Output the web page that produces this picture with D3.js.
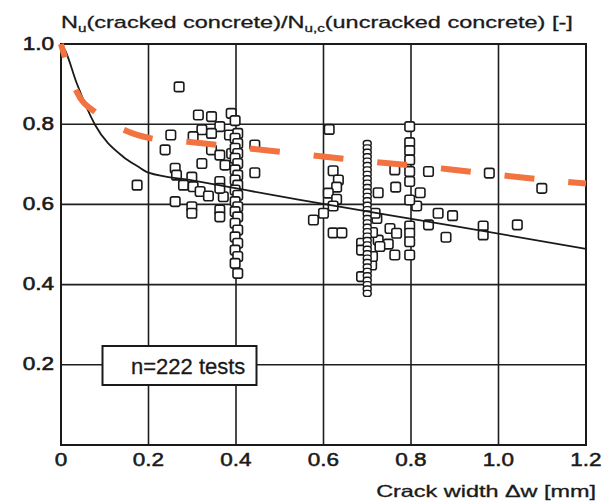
<!DOCTYPE html>
<html>
<head>
<meta charset="utf-8">
<script src="https://cdn.jsdelivr.net/npm/d3@7"></script>
<style>
  html, body { margin: 0; padding: 0; background: #fff; }
  text { font-family: "Liberation Sans", Arial, Helvetica, sans-serif; fill: #1a1a1a; }
</style>
</head>
<body>
<div id="chart"></div>
<script>
// Axis ticks
var xTicks = [0, 0.2, 0.4, 0.6, 0.8, 1.0, 1.2];
var xTickLabels = ["0", "0.2", "0.4", "0.6", "0.8", "1.0", "1.2"];
var yTicks = [0.2, 0.4, 0.6, 0.8, 1.0];
var yTickLabels = ["0.2", "0.4", "0.6", "0.8", "1.0"];

// Scattered test results (crack width, Nu ratio)
var testW = [0.270, 0.314, 0.344, 0.389, 0.322, 0.363, 0.344, 0.251, 0.302, 0.238,
             0.344, 0.363, 0.390, 0.322, 0.375, 0.443, 0.443, 0.261, 0.264, 0.299,
             0.280, 0.363, 0.302, 0.318, 0.337, 0.371, 0.363, 0.261, 0.299, 0.299,
             0.363, 0.363, 0.174, 0.385,
             0.613, 0.622, 0.634, 0.630, 0.611, 0.630, 0.622, 0.600, 0.577, 0.622,
             0.642, 0.763, 0.840, 0.765, 0.725, 0.821, 0.813, 0.722, 0.718, 0.752,
             0.767, 0.725, 0.748, 0.729, 0.763, 0.710, 0.687, 0.687, 0.687, 0.862,
             0.895, 0.840, 0.880, 0.979, 0.965, 0.965, 1.043, 1.099, 0.712, 0.712];
var testV = [0.893, 0.823, 0.819, 0.827, 0.786, 0.794, 0.777, 0.773, 0.769, 0.736,
             0.736, 0.723, 0.727, 0.702, 0.698, 0.748, 0.679, 0.690, 0.673, 0.668,
             0.648, 0.657, 0.644, 0.632, 0.621, 0.619, 0.640, 0.607, 0.594, 0.578,
             0.586, 0.569, 0.648, 0.773,
             0.787, 0.684, 0.661, 0.643, 0.628, 0.613, 0.596, 0.578, 0.561, 0.529,
             0.529, 0.686, 0.682, 0.643, 0.629, 0.629, 0.596, 0.565, 0.578, 0.540,
             0.528, 0.511, 0.501, 0.495, 0.474, 0.449, 0.503, 0.486, 0.420, 0.578,
             0.572, 0.549, 0.518, 0.678, 0.546, 0.524, 0.549, 0.640, 0.530, 0.470];

// Stacked series at 0.4, 0.7 and 0.8 mm
var col04V = [0.809, 0.777, 0.765, 0.752, 0.740, 0.727, 0.715, 0.702, 0.686, 0.673,
              0.661, 0.648, 0.636, 0.623, 0.607, 0.594, 0.582, 0.569, 0.553, 0.536,
              0.519, 0.503, 0.486, 0.470, 0.453, 0.428];
var col07V = [0.752, 0.741, 0.730, 0.719, 0.708, 0.697, 0.686, 0.675, 0.664, 0.653,
              0.642, 0.631, 0.620, 0.609, 0.598, 0.587, 0.576, 0.565, 0.554, 0.543,
              0.532, 0.521, 0.510, 0.499, 0.488, 0.477, 0.466, 0.455, 0.444, 0.433,
              0.422, 0.411, 0.400, 0.389, 0.378];
var col08V = [0.794, 0.754, 0.734, 0.711, 0.682, 0.657, 0.611, 0.546, 0.528, 0.507, 0.474];

// Mean curve (black) and proposed curve (orange dashed)
var meanW = [0, 0.009, 0.036, 0.078, 0.142, 0.175, 0.200, 0.300, 0.546, 0.900, 1.2];
var meanV = [1.0, 0.985, 0.902, 0.798, 0.719, 0.695, 0.679, 0.660, 0.611, 0.546, 0.489];
var dashW = [0, 0.036, 0.082, 0.146, 0.215, 0.290, 0.436, 0.653, 0.876, 1.090, 1.2];
var dashV = [1.0, 0.881, 0.827, 0.785, 0.763, 0.756, 0.739, 0.713, 0.689, 0.663, 0.652];

var width = 610, height = 503;

var svg = d3.select("#chart").append("svg")
  .attr("width", width)
  .attr("height", height);

var x = d3.scaleLinear().domain([0, 1.2]).range([61, 586]);
var y = d3.scaleLinear().domain([0, 1.0]).range([445, 44]);

// stretch text horizontally (the scanned lettering is wide)
function place(t, px, py, k) {
  t.attr("transform", "translate(" + px + "," + py + ") scale(" + k + ",1)");
}

// grid
var grid = svg.append("g").attr("stroke", "#1e1e1e").attr("stroke-width", 1.6);
grid.selectAll("line.v").data(xTicks.slice(1, -1)).enter().append("line")
  .attr("x1", function(d) { return x(d); }).attr("x2", function(d) { return x(d); })
  .attr("y1", y(1)).attr("y2", y(0));
grid.selectAll("line.h").data(yTicks.slice(0, -1)).enter().append("line")
  .attr("x1", x(0)).attr("x2", x(1.2))
  .attr("y1", function(d) { return y(d); }).attr("y2", function(d) { return y(d); });

// frame
svg.append("rect")
  .attr("x", x(0)).attr("y", y(1))
  .attr("width", x(1.2) - x(0)).attr("height", y(0) - y(1))
  .attr("fill", "none").attr("stroke", "#1a1a1a").attr("stroke-width", 2);

// markers
var pts = testW.map(function(w, i) { return [w, testV[i]]; });
col04V.forEach(function(v, i) { pts.push([i % 2 ? 0.404 : 0.398, v]); });
col08V.forEach(function(v) { pts.push([0.797, v]); });

var sq = 9.5;
svg.append("g").selectAll("rect").data(pts).enter().append("rect")
  .attr("x", function(d) { return x(d[0]) - sq / 2; })
  .attr("y", function(d) { return y(d[1]) - sq / 2; })
  .attr("width", sq).attr("height", sq).attr("rx", 2)
  .attr("fill", "#fff").attr("stroke", "#1a1a1a").attr("stroke-width", 1.6);

svg.append("g").selectAll("rect").data(col07V).enter().append("rect")
  .attr("x", x(0.7) - 4)
  .attr("y", function(d) { return y(d) - 3; })
  .attr("width", 8).attr("height", 6).attr("rx", 3)
  .attr("fill", "#fff").attr("stroke", "#1a1a1a").attr("stroke-width", 1.4);

// mean curve
var line = d3.line()
  .x(function(d) { return x(d[0]); })
  .y(function(d) { return y(d[1]); })
  .curve(d3.curveMonotoneX);

svg.append("path")
  .datum(meanW.map(function(w, i) { return [w, meanV[i]]; }))
  .attr("d", line)
  .attr("fill", "none").attr("stroke", "#1a1a1a").attr("stroke-width", 1.8);

// n box
svg.append("rect")
  .attr("x", 102.5).attr("y", 346).attr("width", 154).attr("height", 39)
  .attr("fill", "#fff").attr("stroke", "#1a1a1a").attr("stroke-width", 2);
svg.append("text")
  .attr("x", 131).attr("y", 374)
  .style("font-size", "22px")
  .style("stroke", "#1a1a1a").style("stroke-width", 0.3)
  .text("n=222 tests");

// orange dashed curve
svg.append("path")
  .datum(dashW.map(function(w, i) { return [w, dashV[i]]; }))
  .attr("d", line)
  .attr("fill", "none").attr("stroke", "#f2733f").attr("stroke-width", 6)
  .attr("stroke-dasharray", "30,34").attr("stroke-dashoffset", 16);

// tick labels
svg.append("g").selectAll("text").data(xTicks).enter().append("text")
  .attr("text-anchor", "middle")
  .style("font-size", "18px")
  .style("stroke", "#1a1a1a").style("stroke-width", 0.5)
  .text(function(d, i) { return xTickLabels[i]; })
  .each(function(d) { place(d3.select(this), x(d), 466, 1.25); });

svg.append("g").selectAll("text").data(yTicks).enter().append("text")
  .attr("text-anchor", "end")
  .attr("dy", "0.36em")
  .style("font-size", "18.5px")
  .style("stroke", "#1a1a1a").style("stroke-width", 0.6)
  .text(function(d, i) { return yTickLabels[i]; })
  .each(function(d) { place(d3.select(this), 54, y(d) - 1, 1.22); });

// axis titles
var title = svg.append("text").style("font-size", "17px")
  .style("stroke", "#1a1a1a").style("stroke-width", 0.3);
title.append("tspan").text("N");
title.append("tspan").attr("dy", 4).style("font-size", "11px").text("u");
title.append("tspan").attr("dy", -4).text("(cracked concrete)/N");
title.append("tspan").attr("dy", 4).style("font-size", "11px").text("u,c");
title.append("tspan").attr("dy", -4).text("(uncracked concrete) [-]");
var tw = title.node().getBBox().width;
place(title, 61, 28, 512 / tw);

var xTitle = svg.append("text")
  .attr("text-anchor", "end")
  .style("font-size", "16.5px")
  .style("stroke", "#1a1a1a").style("stroke-width", 0.3)
  .text("Crack width \u0394w [mm]");
var xw = xTitle.node().getBBox().width;
place(xTitle, 596, 497, 220 / xw);
</script>
</body>
</html>
